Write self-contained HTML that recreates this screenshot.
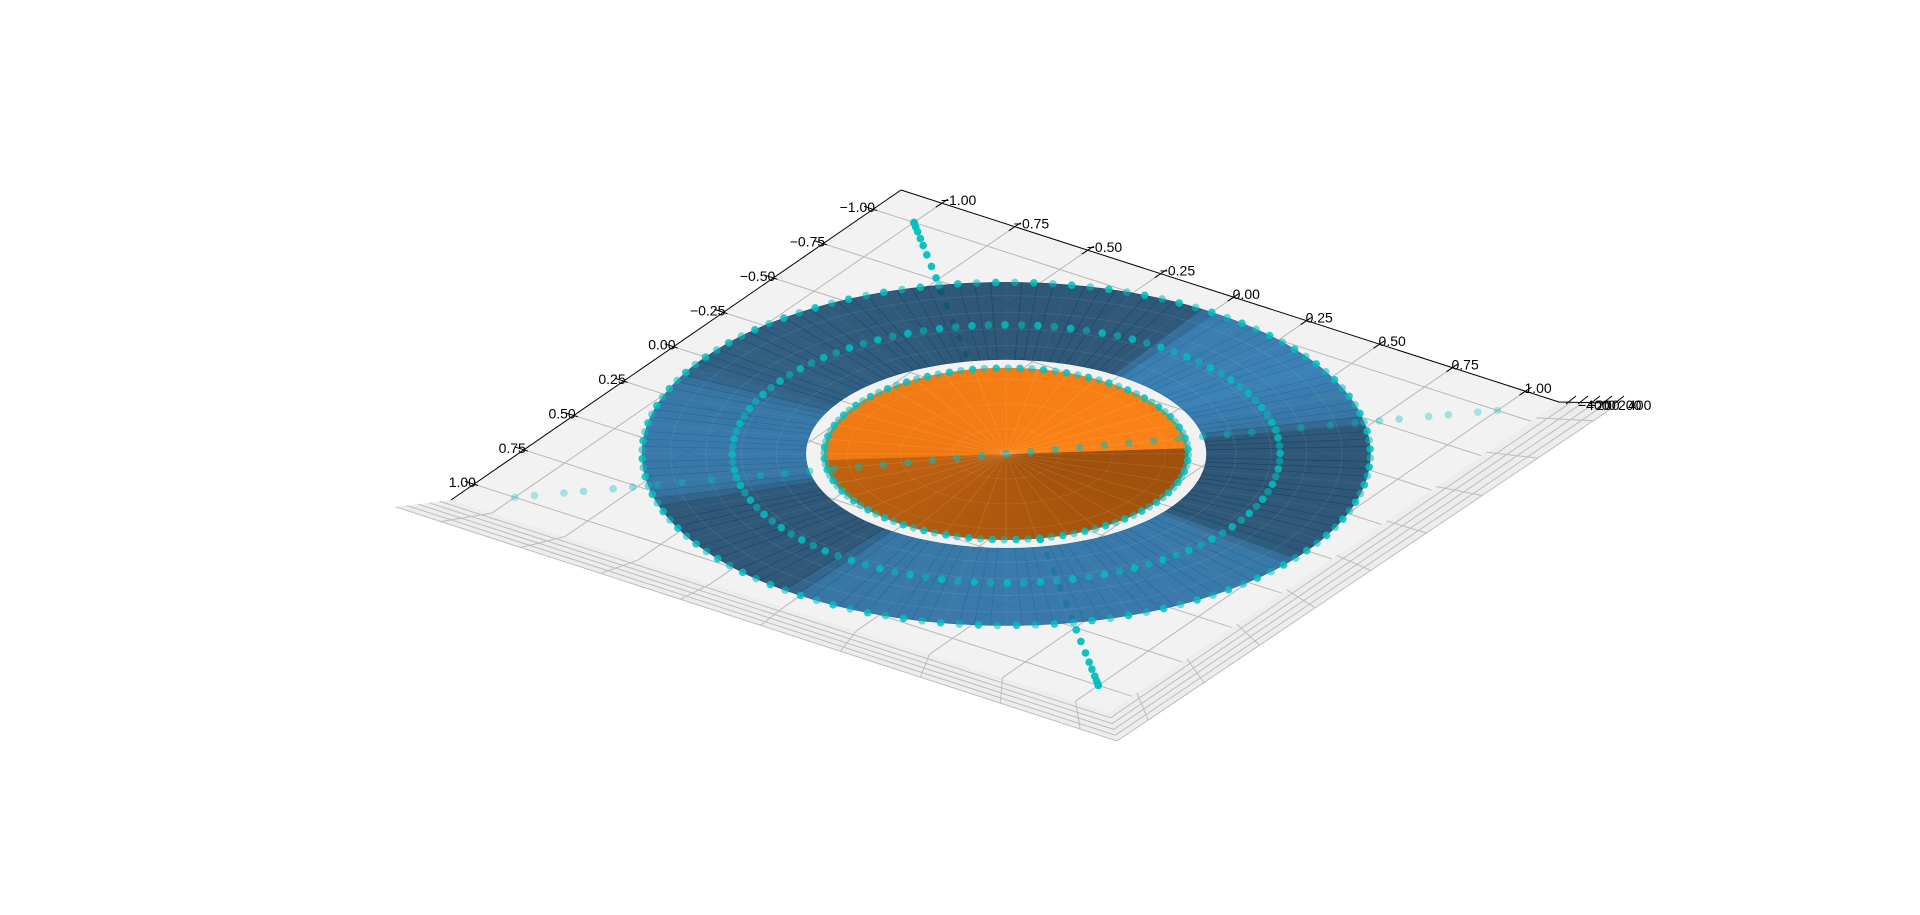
<!DOCTYPE html>
<html><head><meta charset="utf-8"><style>
html,body{margin:0;padding:0;background:#fff;}
svg{display:block;font-family:"Liberation Sans",sans-serif;}
</style></head><body>
<svg id="chart" width="1920" height="915" viewBox="0 0 1920 915" xmlns="http://www.w3.org/2000/svg">
<g id="panes"></g>
<g id="gridg"></g>
<g id="lineA"></g>
<g id="surf"></g>
<g id="rings"></g>
<g id="lineB"></g>
<g id="axes"></g>
</svg>
<script>
// ---- data ----
const xTicks = [-1, -0.75, -0.5, -0.25, 0, 0.25, 0.5, 0.75, 1];
const yTicks = [-1, -0.75, -0.5, -0.25, 0, 0.25, 0.5, 0.75, 1];
const tickLabels = ["\u22121.00","\u22120.75","\u22120.50","\u22120.25","0.00","0.25","0.50","0.75","1.00"];
const zTickLabels = ["\u2212400","\u2212200","0","200","400"];
const annulusRadii = [0.567, 1.03];
const discRadius = [0.515];
const ringRadii = [0.515, 0.775, 1.03];
const ringCounts = [96, 104, 120];
const diagT = [-1,-0.995,-0.98,-0.96,-0.93,-0.9,-0.86,-0.81,-0.76,-0.7,-0.64,-0.57,-0.5,-0.43,-0.35,-0.27,-0.19,-0.11,-0.03,0.05,0.13,0.21,0.29,0.37,0.44,0.51,0.58,0.65,0.71,0.76,0.81,0.86,0.9,0.93,0.96,0.98,0.995,1];
const crossT = [-1,-0.96,-0.9,-0.86,-0.8,-0.76,-0.71,-0.66,-0.6,-0.55,-0.5,-0.45,-0.4,-0.35,-0.3,-0.25,-0.2,-0.15,-0.1,-0.05,0,0.05,0.1,0.15,0.2,0.25,0.3,0.35,0.4,0.45,0.5,0.55,0.6,0.66,0.71,0.76,0.8,0.86,0.9,0.96,1];

// ---- projection ----
const NS="http://www.w3.org/2000/svg";
const T={x:901,y:190}, L={x:451,y:500}, R={x:1559,y:402};
const B={x:L.x+R.x-T.x,y:L.y+R.y-T.y};
const lo=-1.14, hi=1.115;
function proj(a,b){const fa=(a-lo)/(hi-lo), fb=(b-lo)/(hi-lo);
 return {x:T.x+fa*(R.x-T.x)+fb*(L.x-T.x), y:T.y+fa*(R.y-T.y)+fb*(L.y-T.y)};}
const C=proj(0,0);
const ua={x:(R.x-T.x)/(hi-lo),y:(R.y-T.y)/(hi-lo)}, ub={x:(L.x-T.x)/(hi-lo),y:(L.y-T.y)/(hi-lo)};
const RX=Math.hypot(ua.x,ub.x), RY=Math.hypot(ua.y,ub.y);
function ell(r,phi){return {x:C.x+r*RX*Math.cos(phi), y:C.y+r*RY*Math.sin(phi)};}
function mk(tag,attrs,parent){const e=document.createElementNS(NS,tag);for(const k in attrs)e.setAttribute(k,attrs[k]);parent.appendChild(e);return e;}
const pts=a=>a.map(p=>p.x.toFixed(1)+","+p.y.toFixed(1)).join(" ");

// ---- panes ----
const panes=document.getElementById('panes');
const layer=(k)=>({L:{x:L.x-11*k,y:L.y+1.4*k},B:{x:B.x+1.6*k,y:B.y+5.8*k},R:{x:R.x+12*k,y:R.y+0.3*k}});
const l5=layer(5);
let e=mk('polygon',{points:pts([L,B,R,l5.R,l5.B,l5.L]),fill:'#ededed'},panes);


e=mk('polygon',{points:pts([T,R,B,L]),fill:'#f2f2f2'},panes);


for(let k=1;k<=5;k++){const ly=layer(k);
 e=mk('polyline',{points:pts([ly.L,ly.B,ly.R]),fill:'none',stroke:'#bdbdbd','stroke-width':1},panes);
 
 }

// ---- floor grid ----
const gridg=document.getElementById('gridg');
xTicks.forEach(v=>{const p1=proj(v,lo),p2=proj(v,hi);
 e=mk('line',{x1:p1.x,y1:p1.y,x2:p2.x,y2:p2.y,stroke:'#b8b8b8','stroke-width':1},gridg);
 
 
 const f=(v-lo)/(hi-lo); const a0={x:B.x+f*(R.x-B.x),y:B.y+f*(R.y-B.y)};
 const a5={x:l5.B.x+f*(l5.R.x-l5.B.x),y:l5.B.y+f*(l5.R.y-l5.B.y)};
 e=mk('line',{x1:a0.x,y1:a0.y,x2:a5.x,y2:a5.y,stroke:'#bdbdbd','stroke-width':1},gridg);
 
 });
yTicks.forEach(v=>{const p1=proj(lo,v),p2=proj(hi,v);
 e=mk('line',{x1:p1.x,y1:p1.y,x2:p2.x,y2:p2.y,stroke:'#b8b8b8','stroke-width':1},gridg);
 
 });
xTicks.forEach(v=>{const f=(v-lo)/(hi-lo);
 const a0={x:L.x+f*(B.x-L.x),y:L.y+f*(B.y-L.y)};
 const a5={x:l5.L.x+f*(l5.B.x-l5.L.x),y:l5.L.y+f*(l5.B.y-l5.L.y)};
 e=mk('line',{x1:a0.x,y1:a0.y,x2:a5.x,y2:a5.y,stroke:'#bdbdbd','stroke-width':1},gridg);
 
 });

// ---- diagonal scatter line (behind surfaces) ----
const lineA=document.getElementById('lineA');
diagT.forEach(t=>{const p=proj(t,t);
 e=mk('circle',{cx:p.x,cy:p.y,r:3.8,fill:'#00bfbf','fill-opacity':0.95},lineA);
 
 });

// ---- surfaces ----
const surf=document.getElementById('surf');
const blueKeys=[[-90,.58],[-58,.6],[-55,.92],[-30,.96],[-13,.86],[-9,.6],[0,.58],[36,.6],[40,.88],[90,.9],[124,.85],[128,.6],[162,.6],[167,.86],[185,.9],[205,.85],[210,.68],[240,.62],[270,.58]];
function interp(keys,d){while(d<-90)d+=360;while(d>=270)d-=360;
 for(let i=0;i<keys.length-1;i++){if(d>=keys[i][0]&&d<=keys[i+1][0]){const t=(d-keys[i][0])/(keys[i+1][0]-keys[i][0]);return keys[i][1]+t*(keys[i+1][1]-keys[i][1]);}}return keys[0][1];}
function mixc(c1,c2,t){return 'rgb('+c1.map((v,i)=>Math.round(v+(c2[i]-v)*t)).join(',')+')';}
const N=144;
for(let i=0;i<N;i++){const p0=(i/N)*2*Math.PI-Math.PI/2, p1=((i+1)/N)*2*Math.PI-Math.PI/2;
 const d=((i+0.5)/N)*360-90; const f=interp(blueKeys,d);
 const col=mixc([26,70,104],[42,122,182],(f-0.58)/0.42);
 const r0=annulusRadii[0], r1=annulusRadii[1];
 e=mk('polygon',{points:pts([ell(r0,p0),ell(r1,p0),ell(r1,p1),ell(r0,p1)]),fill:col,stroke:col,'stroke-width':0.6,'fill-opacity':0.9},surf);
 
 }
// orange disc
const tilt=-4*Math.PI/180;
for(let i=0;i<N;i++){const p0=(i/N)*2*Math.PI+tilt, p1=((i+1)/N)*2*Math.PI+tilt;
 const d=((i+0.5)/N)*360; let col;
 if(d<180){const t=d/180; col=mixc([158,80,12],[192,98,16],Math.pow(t,1.3));}
 else {const t=(d-180)/180; col=mixc([238,120,18],[252,130,22],t);}
 const r=discRadius[0];
 e=mk('polygon',{points:pts([C,ell(r,p0),ell(r,p1)]),fill:col,stroke:col,'stroke-width':0.6},surf);
 
 }
// faint mesh lines
for(let i=0;i<36;i++){const p=i/36*2*Math.PI;const a=ell(annulusRadii[0],p),b=ell(annulusRadii[1],p),c=ell(discRadius[0],p);
 mk('line',{x1:a.x,y1:a.y,x2:b.x,y2:b.y,stroke:'#ffffff','stroke-opacity':0.12,'stroke-width':1},surf);
 mk('line',{x1:C.x,y1:C.y,x2:c.x,y2:c.y,stroke:'#ffffff','stroke-opacity':0.1,'stroke-width':1},surf);}
[0.65,0.75,0.85,0.95].forEach(r=>{mk('ellipse',{cx:C.x,cy:C.y,rx:r*RX,ry:r*RY,fill:'none',stroke:'#ffffff','stroke-opacity':0.08},surf);});
[0.15,0.3,0.45].forEach(r=>{mk('ellipse',{cx:C.x,cy:C.y,rx:r*RX,ry:r*RY,fill:'none',stroke:'#ffffff','stroke-opacity':0.08},surf);});

// ---- rings ----
const rings=document.getElementById('rings');
ringRadii.forEach((r,ri)=>{const n=ringCounts[ri];
 for(let i=0;i<n;i++){const th=i/n*2*Math.PI; const p=proj(r*Math.cos(th),r*Math.sin(th));
  e=mk('circle',{cx:p.x,cy:p.y,r:3.8,fill:'#00bfbf','fill-opacity':(i%2?0.55:0.85)},rings);
  
  }});

// ---- cross scatter line (faded) ----
const lineB=document.getElementById('lineB');
crossT.forEach(t=>{const p=proj(-t,t);
 e=mk('circle',{cx:p.x,cy:p.y,r:3.8,fill:'#00bfbf','fill-opacity':0.3+0.3*(1-Math.abs(t))},lineB);
 
 });

// ---- axes ----
const axes=document.getElementById('axes');
e=mk('line',{x1:T.x,y1:T.y,x2:L.x,y2:L.y,stroke:'#000','stroke-width':1},axes);


e=mk('line',{x1:T.x,y1:T.y,x2:R.x,y2:R.y,stroke:'#000','stroke-width':1},axes);


yTicks.forEach((v,i)=>{const p=proj(lo,v);
 mk('line',{x1:p.x-9,y1:p.y-2.9,x2:p.x+4,y2:p.y+1.3,stroke:'#000','stroke-width':1},axes);
 e=mk('text',{x:p.x+2,y:p.y+3,'text-anchor':'end','font-size':14,fill:'#000'},axes);
 e.textContent=tickLabels[i];
 
 });
xTicks.forEach((v,i)=>{const p=proj(v,lo);
 mk('line',{x1:p.x-6,y1:p.y+4,x2:p.x+6,y2:p.y-4,stroke:'#000','stroke-width':1},axes);
 e=mk('text',{x:p.x-1,y:p.y+2,'text-anchor':'start','font-size':14,fill:'#000'},axes);
 e.textContent=tickLabels[i];
 
 });
// z axis
e=mk('line',{x1:R.x,y1:R.y,x2:R.x+50,y2:R.y+1,stroke:'#000','stroke-width':1},axes);


const zx=[1578,1588,1600,1610,1620];
zTickLabels.forEach((s,i)=>{
 mk('line',{x1:1566+i*12,y1:R.y+2,x2:1576+i*12,y2:R.y-6,stroke:'#000','stroke-width':1},axes);
 e=mk('text',{x:zx[i]+(i>=2?8:0),y:R.y+8,'font-size':14,fill:'#000'},axes);
 e.textContent=s;
 
 });
</script>
</body></html>
